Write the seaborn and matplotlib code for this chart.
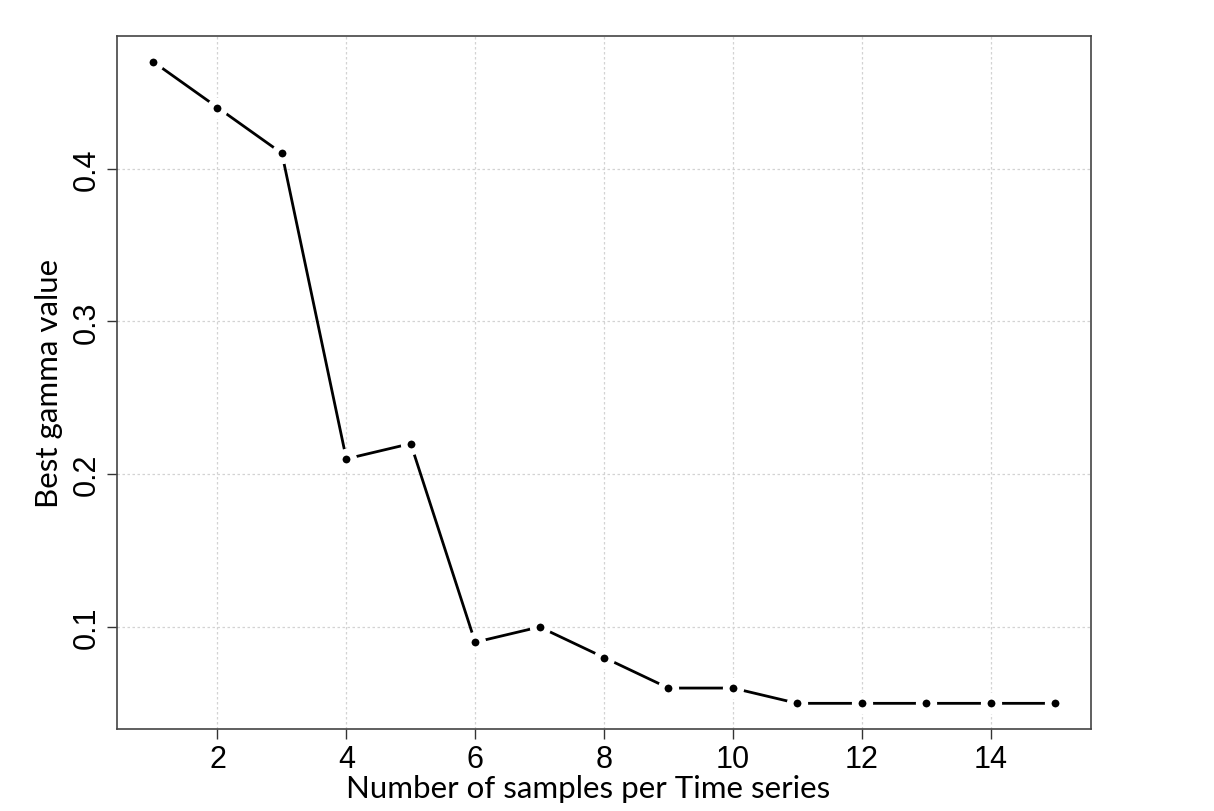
import pandas as pd
import matplotlib.pyplot as plt
import seaborn as sns

samples = list(range(1, 16))
gamma = [0.47, 0.44, 0.41, 0.21, 0.22, 0.09, 0.10, 0.08, 0.06, 0.06, 0.05, 0.05, 0.05, 0.05, 0.05]
x_ticks = [2, 4, 6, 8, 10, 12, 14]
y_ticks = [0.1, 0.2, 0.3, 0.4]

df = pd.DataFrame({"samples": samples, "gamma": gamma})

sns.set_style("white")
plt.rcParams["font.family"] = ["Liberation Sans", "DejaVu Sans"]

fig = plt.figure(figsize=(12.14, 8.12), dpi=100)
ax = fig.add_axes([117 / 1214, 1 - 730 / 812, (1091 - 117) / 1214, (730 - 37) / 812])

# estilo "type='b'" do R: pontos com espaço em volta da linha
sns.lineplot(data=df, x="samples", y="gamma", ax=ax, color="black", linewidth=2,
             marker="o", markersize=10.5, markerfacecolor="black",
             markeredgecolor="white", markeredgewidth=4.8, zorder=3)

ax.set_xlim(0.44, 15.56)
ax.set_ylim(0.0332, 0.4868)
ax.set_xticks(x_ticks)
ax.set_yticks(y_ticks)
ax.set_yticklabels([str(v) for v in y_ticks], rotation=90, va="center")
ax.grid(True, color="#d3d3d3", linestyle=(0, (2, 2)), linewidth=0.9, zorder=0)
ax.set_axisbelow(True)

ax.tick_params(axis="both", direction="out", length=7, width=1, color="#333333",
               labelsize=22, labelcolor="black", pad=4, bottom=True, left=True)
for s in ax.spines.values():
    s.set_color("#444444")
    s.set_linewidth(1.2)

ax.set_xlabel("Number of samples per Time series", fontsize=22.5, color="black",
              family=["Lato", "DejaVu Sans"])
ax.xaxis.set_label_coords((588 - 117) / 974, -0.065)
ax.set_ylabel("Best gamma value", fontsize=22.5, color="black",
              family=["Lato", "DejaVu Sans"], labelpad=6)

plt.savefig("out.png", dpi=100)
